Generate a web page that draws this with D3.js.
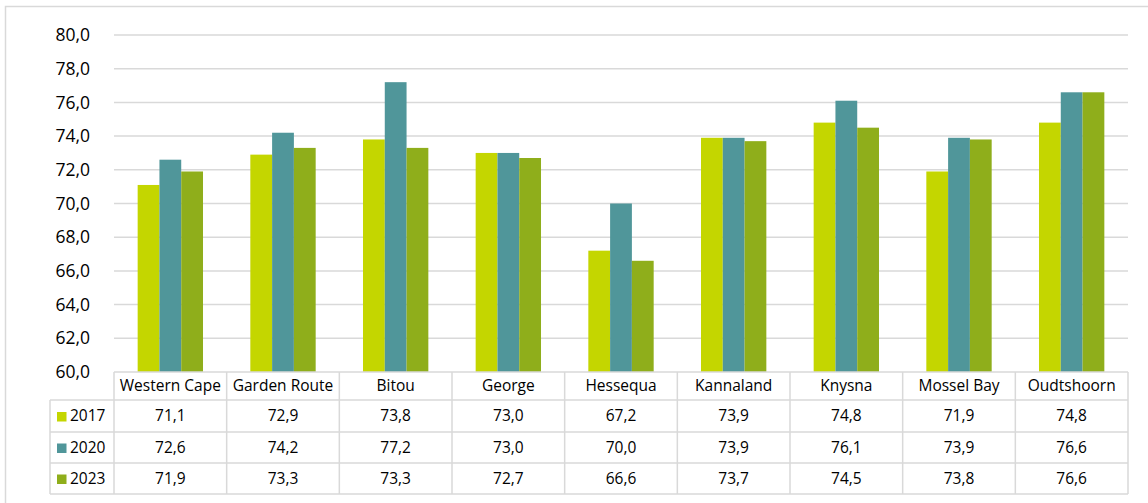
<!DOCTYPE html>
<html><head><meta charset="utf-8">
<script src="https://cdn.jsdelivr.net/npm/d3@7"></script>
<style>body{margin:0;background:#fff}svg{display:block}</style>
</head><body>
<script>
const categories = ["Western Cape","Garden Route","Bitou","George","Hessequa","Kannaland","Knysna","Mossel Bay","Oudtshoorn"];
const seriesNames = ["2017","2020","2023"];
const v2017 = [71.1,72.9,73.8,73.0,67.2,73.9,74.8,71.9,74.8];
const v2020 = [72.6,74.2,77.2,73.0,70.0,73.9,76.1,73.9,76.6];
const v2023 = [71.9,73.3,73.3,72.7,66.6,73.7,74.5,73.8,76.6];
const yTicks = [60,62,64,66,68,70,72,74,76,78,80];
const colors = ["#c4d600","#50969a","#8fae1b"];

(function(){
const W=1148,H=503;
const svg=d3.select("body").append("svg").attr("width",W).attr("height",H);
const font="'Open Sans', 'Noto Sans', sans-serif";
svg.append("rect").attr("x",5.5).attr("y",6.5).attr("width",W+10).attr("height",H+10)
  .attr("fill","none").attr("stroke","#d9d9d9").attr("stroke-width",1.5);

const pL=114,pR=1128,pT=35,pB=372;
const x=d3.scaleBand().domain(categories).range([pL,pR]).paddingInner(0).paddingOuter(0);
const y=d3.scaleLinear().domain([60,80]).range([pB,pT]);
const groupW = x.bandwidth()*0.58;
const xs=d3.scaleBand().domain(seriesNames).range([(x.bandwidth()-groupW)/2,(x.bandwidth()+groupW)/2]);

svg.append("g").selectAll("line").data(yTicks.filter(t=>t>60)).join("line")
  .attr("x1",pL).attr("x2",pR).attr("y1",d=>y(d)).attr("y2",d=>y(d))
  .attr("stroke","#d9d9d9").attr("stroke-width",1.5);

const yAxis=d3.axisLeft(y).tickValues(yTicks).tickSize(0).tickPadding(0)
  .tickFormat(d=>d3.format(".1f")(d).replace(".",","));
const ya=svg.append("g").attr("transform",`translate(${pL-24},0)`).call(yAxis);
ya.select(".domain").remove();
ya.selectAll("text").attr("font-family",font).attr("font-size",17.5).attr("fill","#000");

const series=[v2017,v2020,v2023];
series.forEach((vals,si)=>{
  svg.append("g").selectAll("rect").data(vals).join("rect")
    .attr("x",(d,i)=>x(categories[i])+xs(seriesNames[si]))
    .attr("width",xs.bandwidth())
    .attr("y",d=>y(d)).attr("height",d=>pB-y(d))
    .attr("fill",colors[si]);
});

const rowY=[372,400,432,463,494];
const legL=50;
const g=svg.append("g");
const lc="#d9d9d9";
g.append("line").attr("x1",pL).attr("x2",pR).attr("y1",rowY[0]).attr("y2",rowY[0]).attr("stroke",lc).attr("stroke-width",1.5);
rowY.slice(1).forEach(yy=>g.append("line").attr("x1",legL).attr("x2",pR).attr("y1",yy).attr("y2",yy).attr("stroke",lc).attr("stroke-width",1.5));
const colEdges=categories.map(c=>x(c)).concat([pR]);
colEdges.forEach(xx=>g.append("line").attr("x1",xx).attr("x2",xx).attr("y1",rowY[0]).attr("y2",rowY[4]).attr("stroke",lc).attr("stroke-width",1.5));
g.append("line").attr("x1",legL).attr("x2",legL).attr("y1",rowY[1]).attr("y2",rowY[4]).attr("stroke",lc).attr("stroke-width",1.5);

const fs=15.5;
g.selectAll("text.hdr").data(categories).join("text").attr("class","hdr")
  .attr("x",d=>x(d)+x.bandwidth()/2).attr("y",(rowY[0]+rowY[1])/2+1)
  .attr("text-anchor","middle").attr("dominant-baseline","middle")
  .attr("font-family",font).attr("font-size",fs).attr("fill","#000").text(d=>d);
series.forEach((vals,si)=>{
  const cy=(rowY[si+1]+rowY[si+2])/2+1;
  g.append("rect").attr("x",57).attr("y",cy-5).attr("width",9.5).attr("height",9.5).attr("fill",colors[si]);
  g.append("text").attr("x",70).attr("y",cy).attr("dominant-baseline","middle")
    .attr("font-family",font).attr("font-size",fs).attr("fill","#000").text(seriesNames[si]);
  g.append("g").selectAll("text").data(vals).join("text")
    .attr("x",(d,i)=>x(categories[i])+x.bandwidth()/2).attr("y",cy)
    .attr("text-anchor","middle").attr("dominant-baseline","middle")
    .attr("font-family",font).attr("font-size",fs).attr("fill","#000")
    .text(d=>d3.format(".1f")(d).replace(".",","));
});
})();
</script>
</body></html>
